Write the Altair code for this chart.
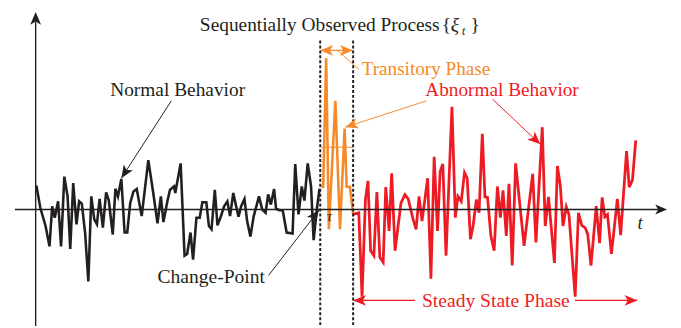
import math
import altair as alt
import pandas as pd

# ---------------- data ----------------
black_t = [36.7, 40.7, 46, 50, 52.7, 55.3, 58.7, 61.7, 65, 68.3, 71, 74, 77.3, 80, 82.7, 86, 89.3,
           92.3, 95.3, 98, 100.7, 104, 107.3, 110, 114, 116.7, 119.3, 122.7, 126, 128.7, 131.7, 135,
           138.3, 143.3, 150, 155, 159.3, 162.7, 165.3, 169.3, 172, 176, 177.3, 182.7, 186.7, 189.3,
           192.7, 195.3, 198.7, 202, 204.7, 208.7, 211.3, 214, 217.3, 220, 223.3, 226.7, 230, 232.7,
           236, 238.7, 241.3, 244, 247.3, 250, 253.3, 256.7, 262, 265.3, 268.7, 271.3, 274, 277.3,
           279.3, 282.7, 286, 290, 296, 298.7, 302, 305.3, 308, 311.3, 314.7, 317.3, 320.7, 323.3]
black_v = [24.3, 1.7, -16.7, -37.3, 3.3, -8.3, 8.3, -37.3, 33.3, 13.3, -40, 26.7, -15, 8.3, 6, -23.3,
           -72.7, 13.3, -10, -15, 10.7, -18.3, 17.3, 9.3, -25.3, 21, 13.3, 31, -23.3, -23.3, 6.7, 18.3,
           20.7, -6.7, 50, 16.7, -14, 13.3, -12.7, 8.3, 20, 23.3, 16.7, 46.7, -46.7, -45, -23.3, -50.7,
           -8.3, -8.3, 7.3, 7.3, -16.7, -20, 20, -16, -7.3, 3.3, 8.3, -6.7, 16.7, 4, -7.3, 3.3, 10.7,
           -11.7, -27.3, -6.7, 13.3, 0, -3.3, 15.3, 5, 20.7, 0.7, -0.7, -0.7, -23.3, -24.3, 46, -5,
           23.3, 9, 46.7, 23.3, -31, 1.7, 21]

orange_t = [325, 327, 330, 332.7, 339.3, 344, 348.7, 350.7, 354, 357.3]
orange_v = [23, 23, 153, -20, 110, -20, 82, 23, 23, -5]
orange_mean = 63

red_t = [357.3, 363, 366.3, 369.7, 372.3, 375, 378.3, 381.3, 384.3, 387.7, 390.3, 393.7, 396.3, 399.7,
         405.7, 409.7, 413, 418, 421, 424, 427, 432.7, 436, 439.3, 442.7, 445.3, 448, 451.3, 457.3,
         460.7, 463.3, 466.7, 470, 472.7, 476, 478.7, 482, 484.7, 488, 490.7, 493.3, 496.7, 500,
         503.3, 506.3, 509, 512.3, 515, 518.3, 521.7, 530.3, 539, 542.3, 548.7, 551.7, 555, 561, 564,
         567, 569.7, 573, 575.7, 582, 585.3, 588.7, 592, 594.7, 598, 603.3, 606.7, 609.3, 612, 614.7,
         618.7, 624.7, 628, 634, 636.7, 640, 643.3]
red_v = [-5, -3.3, -88.3, 10, 29, -41.7, -46.7, 17.7, -48.3, -53.3, 22.7, -21.7, 36.7, -41.7, 6.7, 15,
         10.7, -10, -20, 13.3, -11.7, 31.7, -70, 53.3, -21.7, 38.3, 46, -46.7, 104, -8.3, 13.3, 8.3,
         37.3, 31.7, -30, -16.7, 10, -3.3, 76.7, 12.7, 12.3, -26.7, -41.7, 23.3, -8.3, 19.3, -26.7, 26,
         -56.7, 46.7, -36.7, 36, -33.3, 83.3, -16.7, 12.7, -54, 44, 24, -16.7, 2.7, -5, -88.3, -3.3,
         -16, -18.3, -25, -56.7, 3.3, -34, 12.3, -7.3, -5, -45, 10.7, -26, 59, 22.7, 30, 70]

# ---------------- styling ----------------
BLACK = "#231f20"
ORANGE = "#f58a2a"
RED = "#ed1c24"
FONT = "Liberation Serif"

X = alt.Scale(domain=[0, 681], nice=False, zero=False)
Y = alt.Scale(domain=[-118, 210], nice=False, zero=False)


def xy(xf="x", yf="y"):
    return dict(x=alt.X(f"{xf}:Q", scale=X, axis=None), y=alt.Y(f"{yf}:Q", scale=Y, axis=None))


def series(t, v, color, width):
    df = pd.DataFrame({"x": t, "y": v})
    return alt.Chart(df).mark_line(color=color, strokeWidth=width).encode(**xy())


layers = [
    series(black_t, black_v, BLACK, 2.6),
    series(orange_t, orange_v, ORANGE, 2.6),
    series(red_t, red_v, RED, 2.8),
]

# segments: x, y, x2, y2, color, width
segs = [
    (15, 0, 666, 0, BLACK, 1.4),
    (36, -118, 36, 190, BLACK, 1.4),
    (173.3, 110, 122.7, 31.7, BLACK, 1.0),
    (271.7, -66.7, 322.7, -0.7, BLACK, 1.0),
    (324, 161, 357, 161, ORANGE, 1.4),
    (341.7, 160.7, 363.3, 141.7, ORANGE, 1.0),
    (431.7, 110, 349.3, 83.3, ORANGE, 1.0),
    (325, orange_mean, 357, orange_mean, ORANGE, 1.0),
    (498.3, 111.7, 546.7, 66, RED, 1.0),
    (357.3, -92, 420, -92, RED, 1.2),
    (581.7, -92, 645, -92, RED, 1.2),
]
seg_df = pd.DataFrame(segs, columns=["x", "y", "x2", "y2", "c", "w"])
layers.append(
    alt.Chart(seg_df).mark_rule().encode(
        **xy(), x2="x2:Q", y2="y2:Q",
        color=alt.Color("c:N", scale=None),
        strokeWidth=alt.StrokeWidth("w:Q", scale=None),
    )
)

# dashed phase boundaries
dash_df = pd.DataFrame({"x": [324, 357.3], "y": [171, 171], "y2": [-118, -118]})
layers.append(
    alt.Chart(dash_df).mark_rule(color=BLACK, strokeWidth=2, strokeDash=[3, 2]).encode(
        **xy(), y2="y2:Q"
    )
)


def head(tail, tip, length, color):
    dx = tip[0] - tail[0]
    dy = -(tip[1] - tail[1])  # screen y grows downward
    ang = math.degrees(math.atan2(dx, -dy)) % 360
    return dict(x=tip[0], y=tip[1], a=ang, s=4 * length * length, c=color)


heads = [
    head((36, 0), (36, 200), 13, BLACK),
    head((0, 0), (675, 0), 12, BLACK),
    head((173.3, 110), (122.7, 31.7), 13, BLACK),
    head((271.7, -66.7), (322.7, -0.7), 13, BLACK),
    head((357, 161), (324, 161), 13, ORANGE),
    head((324, 161), (357, 161), 13, ORANGE),
    head((431.7, 110), (349.3, 83.3), 13, ORANGE),
    head((498.3, 111.7), (546.7, 66), 13, RED),
    head((420, -92), (357.3, -92), 13, RED),
    head((581.7, -92), (645, -92), 13, RED),
]
head_df = pd.DataFrame(heads)
layers.append(
    alt.Chart(head_df).mark_point(
        shape="M0,0L0.42,1L0,0.75L-0.42,1Z", filled=True, opacity=1, strokeWidth=0
    ).encode(
        **xy(),
        angle=alt.Angle("a:Q", scale=None),
        size=alt.Size("s:Q", scale=None),
        color=alt.Color("c:N", scale=None),
    )
)

# texts: x, baseline y, text, color, size, style, align
texts = [
    (323.5, 180.7, "Sequentially Observed Process", BLACK, 19.6, "normal", "center"),
    (447, 180.7, "{", BLACK, 19.6, "normal", "left"),
    (476, 180.7, "}", BLACK, 19.6, "normal", "left"),
    (456, 180.7, "ξ", BLACK, 19.6, "italic", "left"),
    (467.5, 177, "t", BLACK, 12, "italic", "left"),
    (179.7, 115, "Normal Behavior", BLACK, 19.6, "normal", "center"),
    (431, 136, "Transitory Phase", ORANGE, 19.4, "normal", "center"),
    (508, 115, "Abnormal Behavior", RED, 19.5, "normal", "center"),
    (213.7, -74, "Change-Point", BLACK, 19.8, "normal", "center"),
    (501.7, -98.3, "Steady State Phase", RED, 19.8, "normal", "center"),
    (645, -20, "t", BLACK, 19, "italic", "left"),
    (330.5, -12, "τ", BLACK, 15, "italic", "left"),
]
for (tx, ty, label, col, fs, style, al) in texts:
    tdf = pd.DataFrame({"x": [tx], "y": [ty], "label": [label]})
    layers.append(
        alt.Chart(tdf).mark_text(
            font=FONT, fontStyle=style, fontSize=fs, color=col,
            align=al, baseline="alphabetic"
        ).encode(**xy(), text="label:N")
    )

chart = alt.layer(*layers).properties(
    width=681,
    height=328,
    autosize=alt.AutoSizeParams(type="none"),
    padding={"left": -8, "top": -8, "right": 0, "bottom": 0},
    background="white",
).configure_view(stroke=None)

chart.save("out.html", embed_options={"renderer": "svg", "actions": False})
